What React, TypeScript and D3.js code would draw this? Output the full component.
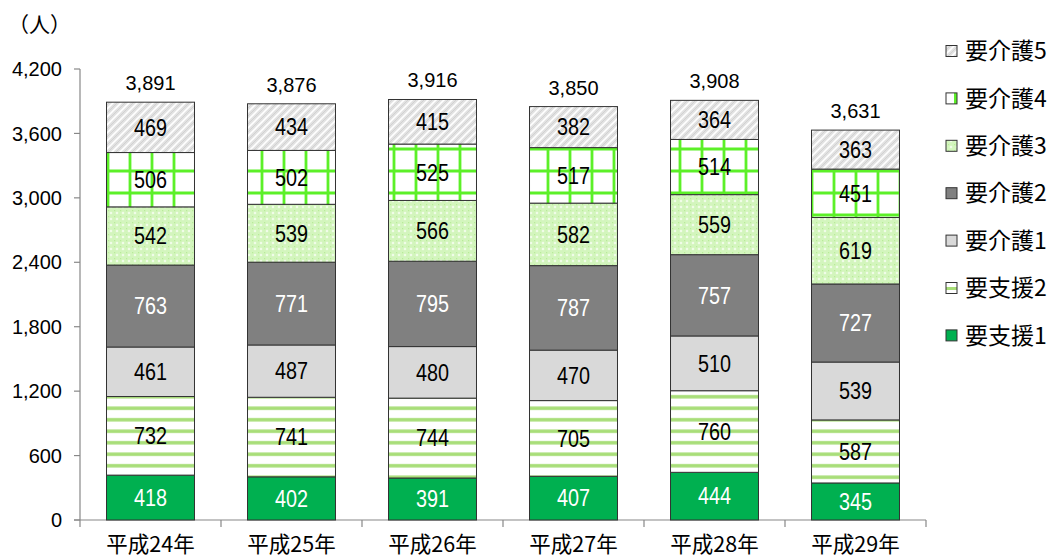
import React from 'react';
import * as d3 from 'd3';

const years = ['平成24年', '平成25年', '平成26年', '平成27年', '平成28年', '平成29年'];
const seriesNames = ['要支援1', '要支援2', '要介護1', '要介護2', '要介護3', '要介護4', '要介護5'];
const shien1 = [418, 402, 391, 407, 444, 345];
const shien2 = [732, 741, 744, 705, 760, 587];
const kaigo1 = [461, 487, 480, 470, 510, 539];
const kaigo2 = [763, 771, 795, 787, 757, 727];
const kaigo3 = [542, 539, 566, 582, 559, 619];
const kaigo4 = [506, 502, 525, 517, 514, 451];
const kaigo5 = [469, 434, 415, 382, 364, 363];
const yTicks = [0, 600, 1200, 1800, 2400, 3000, 3600, 4200];

const seriesValues = [shien1, shien2, kaigo1, kaigo2, kaigo3, kaigo4, kaigo5];
const fills = ['#00b050', 'url(#p-stripe)', '#d9d9d9', '#808080', 'url(#p-dots)', 'url(#p-grid)', 'url(#p-hatch)'];
const legendFills = ['#00b050', 'url(#l-stripe)', '#d9d9d9', '#808080', 'url(#p-dots)', 'url(#l-grid)', 'url(#p-hatch)'];
const labelColors = ['#fff', '#000', '#000', '#fff', '#000', '#000', '#000'];

const numFont = '"Liberation Sans", Arial, sans-serif';
const jpFont = '"Noto Sans CJK JP", sans-serif';

const App: React.FC = () => {
  const width = 1056;
  const height = 560;
  const left = 80;
  const right = 926;
  const bottom = 520;
  const top = 69;

  const x = d3.scaleBand<string>().domain(years).range([left, right]).paddingInner(0.376).paddingOuter(0.188);
  const y = d3.scaleLinear().domain([0, 4200]).range([bottom, top]);

  const rows = years.map((yr, i) => {
    const r: any = { year: yr };
    seriesNames.forEach((s, k) => (r[s] = seriesValues[k][i]));
    return r;
  });
  const stacked = d3.stack<any>().keys(seriesNames)(rows);
  const step = (right - left) / years.length;

  const fmt = d3.format(',');

  return (
    <svg width={width} height={height} style={{ position: 'absolute', left: 0, top: 0, background: '#fff' }}>
      <defs>
        <pattern id="p-hatch" patternUnits="userSpaceOnUse" width="8" height="8">
          <rect width="8" height="8" fill="#e2e2e2" />
          <path d="M-2,2 L2,-2 M0,8 L8,0 M6,10 L10,6" stroke="#ffffff" strokeWidth="1.6" />
          <path d="M-2,6 L6,-2 M2,10 L10,2" stroke="#cdcdcd" strokeWidth="0.8" />
        </pattern>
        <pattern id="p-grid" patternUnits="userSpaceOnUse" width="22" height="22" x="9" y="6">
          <rect width="22" height="22" fill="#ffffff" />
          <path d="M11,0 V22 M0,11 H22" stroke="#5cf028" strokeWidth="2.8" />
        </pattern>
        <pattern id="l-grid" patternUnits="userSpaceOnUse" width="11" height="11" x="946" y="0">
          <rect width="11" height="11" fill="#ffffff" />
          <rect x="8" width="3" height="11" fill="#5cf028" />
        </pattern>
        <pattern id="p-dots" patternUnits="userSpaceOnUse" width="6" height="6">
          <rect width="6" height="6" fill="#d3f5bd" />
          <path d="M3,1.5 L4.5,3 L3,4.5 L1.5,3 Z" fill="#f4fdee" />
          <rect x="0" y="0" width="1.2" height="1.2" fill="#b9ec98" />
        </pattern>
        <pattern id="p-stripe" patternUnits="userSpaceOnUse" width="10" height="11.5">
          <rect width="10" height="11.5" fill="#ffffff" />
          <rect y="4" width="10" height="3.5" fill="#a8de78" />
        </pattern>
        <pattern id="l-stripe" patternUnits="userSpaceOnUse" width="10" height="11" y="-3">
          <rect width="10" height="11" fill="#ffffff" />
          <rect y="4" width="10" height="3" fill="#a8de78" />
        </pattern>
      </defs>

      {/* axes */}
      <line x1={left} x2={left} y1={top} y2={bottom} stroke="#888" strokeWidth={1.2} />
      <line x1={74} x2={right} y1={bottom} y2={bottom} stroke="#888" strokeWidth={1.2} />
      {yTicks.map((t) => (
        <g key={t}>
          <line x1={left - 6} x2={left} y1={y(t)} y2={y(t)} stroke="#888" strokeWidth={1.2} />
          <text x={left - 18} y={y(t)} dy="0.36em" textAnchor="end" fontFamily={numFont} fontSize={20} fill="#000">
            {fmt(t)}
          </text>
        </g>
      ))}
      {d3.range(years.length + 1).map((i) => (
        <line key={i} x1={left + i * step} x2={left + i * step} y1={bottom} y2={bottom + 7} stroke="#888" strokeWidth={1.2} />
      ))}
      <text x={8} y={32} fontFamily={jpFont} fontSize={21} fill="#000">（人）</text>

      {/* bars */}
      {stacked.map((layer, k) => (
        <g key={layer.key}>
          {layer.map((d, i) => {
            const y0 = y(d[0]);
            const y1 = y(d[1]);
            const cx = (x(years[i]) as number) + x.bandwidth() / 2;
            return (
              <g key={i}>
                <rect x={x(years[i])} y={y1} width={x.bandwidth()} height={y0 - y1} fill={fills[k]} stroke="#333" strokeWidth={1} />
                <g transform={`translate(${cx},${(y0 + y1) / 2}) scale(0.86,1)`}>
                  <text dy="0.36em" textAnchor="middle" fontFamily={numFont} fontSize={23} fill={labelColors[k]}>
                    {seriesValues[k][i]}
                  </text>
                </g>
              </g>
            );
          })}
        </g>
      ))}

      {/* totals */}
      {rows.map((r, i) => {
        const total = d3.sum(seriesValues, (s) => s[i]);
        return (
          <text key={i} x={(x(years[i]) as number) + x.bandwidth() / 2} y={y(total) - 12} textAnchor="middle" fontFamily={numFont} fontSize={20} fill="#000">
            {fmt(total)}
          </text>
        );
      })}

      {/* category labels */}
      {years.map((yr) => (
        <text key={yr} x={(x(yr) as number) + x.bandwidth() / 2} y={552} textAnchor="middle" fontFamily={jpFont} fontSize={21.5} fill="#000">
          {yr}
        </text>
      ))}

      {/* legend */}
      {seriesNames
        .slice()
        .reverse()
        .map((s, j) => {
          const k = seriesNames.length - 1 - j;
          const cy = 51 + j * 47.4;
          return (
            <g key={s}>
              <rect x={946} y={cy - 5.5} width={11} height={11} fill={legendFills[k]} stroke="#333" strokeWidth={1} />
              <text x={965} y={cy} dy="0.36em" fontFamily={jpFont} fontSize={23} fill="#000">
                {s}
              </text>
            </g>
          );
        })}
    </svg>
  );
};

export default App;
